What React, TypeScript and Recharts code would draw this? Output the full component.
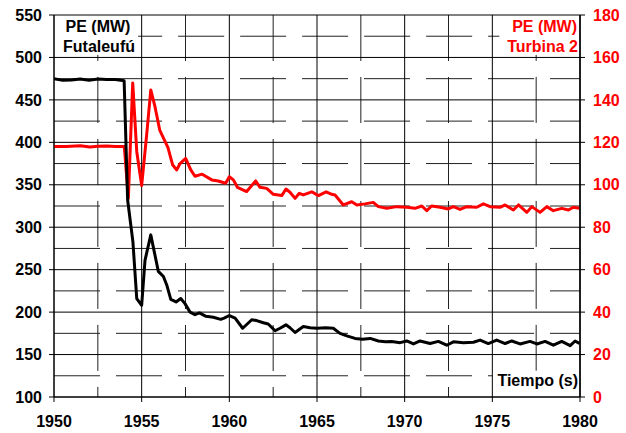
import React from "react";
import { LineChart, Line, XAxis, YAxis, ReferenceLine, Customized } from "recharts";

const futaleufuTime = [1950.0, 1950.5, 1951.0, 1951.5, 1952.0, 1952.5, 1953.0, 1953.5, 1954.0, 1954.2, 1954.5, 1954.72, 1955.0, 1955.19, 1955.52, 1955.95, 1956.24, 1956.43, 1956.66, 1956.96, 1957.23, 1957.47, 1957.76, 1958.04, 1958.29, 1958.67, 1959.09, 1959.51, 1959.7, 1960.0, 1960.33, 1960.76, 1961.28, 1961.56, 1961.94, 1962.22, 1962.61, 1962.89, 1963.23, 1963.46, 1963.75, 1964.22, 1964.6, 1965.0, 1965.5, 1965.93, 1966.31, 1966.7, 1967.17, 1967.6, 1968.03, 1968.5, 1968.9, 1969.26, 1969.74, 1970.12, 1970.5, 1970.88, 1971.45, 1971.92, 1972.4, 1972.78, 1973.35, 1973.92, 1974.3, 1974.77, 1975.25, 1975.73, 1976.11, 1976.58, 1977.15, 1977.54, 1978.01, 1978.48, 1978.96, 1979.44, 1979.72, 1979.97];
const futaleufuMW = [475, 473, 473.5, 474.5, 473, 474.5, 474, 474, 472.5, 332, 283, 216, 208, 261, 291, 248, 242, 232, 215, 212, 216, 210, 200, 197, 199, 195, 194, 191.5, 193, 196, 193, 181, 191, 190, 187.5, 186, 178, 181, 185, 181.6, 176, 183, 181.5, 181, 181.5, 181, 175, 172, 169, 168, 169, 166, 165, 165.5, 164, 166, 162.5, 166, 163, 165.5, 161, 165, 164, 164.5, 167, 163, 167, 163, 166, 162.5, 165.5, 162.5, 165.5, 161, 165.5, 160.5, 166, 163];

const turbinaTime = [1950.0, 1950.7, 1951.5, 1952.05, 1952.5, 1953.01, 1953.5, 1954.01, 1954.24, 1954.49, 1954.72, 1955.0, 1955.29, 1955.52, 1955.76, 1956.03, 1956.5, 1956.77, 1957.0, 1957.19, 1957.51, 1957.8, 1958.04, 1958.45, 1959.0, 1959.37, 1959.79, 1960.0, 1960.23, 1960.46, 1960.99, 1961.5, 1961.75, 1962.13, 1962.51, 1962.99, 1963.23, 1963.46, 1963.75, 1963.99, 1964.22, 1964.7, 1965.08, 1965.52, 1965.84, 1966.03, 1966.5, 1966.98, 1967.27, 1967.74, 1968.21, 1968.5, 1968.98, 1969.55, 1970.12, 1970.59, 1970.98, 1971.26, 1971.54, 1972.02, 1972.49, 1972.78, 1973.16, 1973.54, 1974.11, 1974.49, 1974.87, 1975.44, 1975.73, 1976.2, 1976.49, 1976.97, 1977.25, 1977.72, 1978.11, 1978.48, 1978.96, 1979.34, 1979.62, 1979.97];
const turbinaMW = [118, 118, 118.4, 117.8, 118.2, 118.3, 118, 118, 93.6, 148, 115.6, 99.6, 124, 144.7, 136.8, 125.8, 117.5, 109.3, 107, 110, 112.4, 107, 104, 105, 102.3, 101.8, 100.7, 103.8, 102.3, 98.8, 96.8, 101.8, 98.8, 98.3, 95.5, 94.9, 98, 96.5, 93.6, 96, 95.2, 96.7, 94.9, 96.7, 95.5, 95.2, 90.5, 92, 90.5, 91, 91.7, 89.7, 88.9, 89.7, 89.4, 88.9, 90, 87.8, 90, 89.4, 88.6, 89.7, 88.4, 89.7, 89.4, 91, 89.7, 89.4, 90.5, 88.1, 90.5, 87, 89.7, 87, 89.7, 87.8, 88.9, 88.1, 89.4, 88.9];

const xTicks = [1950, 1955, 1960, 1965, 1970, 1975, 1980];
const leftTicks = [100, 150, 200, 250, 300, 350, 400, 450, 500, 550];
const rightTicks = [0, 20, 40, 60, 80, 100, 120, 140, 160, 180];

// dashed minor grid lines: [x1, y1, x2, y2] in data units (left axis); gaps leave room for the text labels
const minorHorizontal = [
  [1950, 125, 1975, 125],
  [1950, 175, 1980, 175],
  [1950, 225, 1980, 225],
  [1950, 275, 1980, 275],
  [1950, 325, 1980, 325],
  [1950, 375, 1980, 375],
  [1950, 425, 1980, 425],
  [1950, 475, 1980, 475],
  [1954.8, 525, 1975.4, 525],
];
const minorVertical = [
  [1952.5, 503, 1952.5, 100],
  [1957.5, 550, 1957.5, 100],
  [1962.5, 550, 1962.5, 100],
  [1967.5, 550, 1967.5, 100],
  [1972.5, 550, 1972.5, 100],
  [1977.5, 503, 1977.5, 131],
];

const futaleufuData = futaleufuTime.map((t, i) => ({ t, v: futaleufuMW[i] }));
const turbinaData = turbinaTime.map((t, i) => ({ t, v: turbinaMW[i] }));

const FONT = "'Liberation Sans', Arial, Helvetica, sans-serif";
const tickStyle = { fontFamily: FONT, fontWeight: 700, fontSize: 16 };

const Labels = () => (
  <g style={{ fontFamily: FONT, fontWeight: 700, fontSize: 16 }}>
    <text x={98} y={32} textAnchor="middle" fill="#000">PE (MW)</text>
    <text x={99} y={52} textAnchor="middle" fill="#000">Futaleufú</text>
    <text x={577} y={32} textAnchor="end" fill="#ff0000">PE (MW)</text>
    <text x={578} y={52} textAnchor="end" fill="#ff0000">Turbina 2</text>
    <text x={578} y={386} textAnchor="end" fill="#000">Tiempo (s)</text>
  </g>
);

export default function App() {
  return (
    <div style={{ position: "absolute", left: 0, top: 0, background: "#fff" }}>
      <LineChart width={626} height={433} margin={{ top: 15, right: 0, bottom: 0, left: 0 }}>
        <XAxis
          dataKey="t"
          type="number"
          domain={[1950, 1980]}
          ticks={xTicks}
          height={36}
          axisLine={{ stroke: "#000" }}
          tickLine={{ stroke: "#000" }}
          tickSize={5}
          tickMargin={14}
          tick={{ ...tickStyle, fill: "#000" }}
          allowDataOverflow
        />
        <YAxis
          yAxisId="left"
          orientation="left"
          domain={[100, 550]}
          ticks={leftTicks}
          width={54}
          axisLine={{ stroke: "#000" }}
          tickLine={{ stroke: "#000" }}
          tickSize={5}
          tickMargin={7}
          tick={{ ...tickStyle, fill: "#000" }}
          allowDataOverflow
        />
        <YAxis
          yAxisId="right"
          orientation="right"
          domain={[0, 180]}
          ticks={rightTicks}
          width={46}
          axisLine={{ stroke: "#000", strokeWidth: 1.5 }}
          tickLine={{ stroke: "#000" }}
          tickSize={5}
          tickMargin={8}
          tick={{ ...tickStyle, fill: "#ff0000", textAnchor: "start" }}
          allowDataOverflow
        />
        {minorHorizontal.map(([x1, y1, x2, y2]) => (
          <ReferenceLine
            key={"hm" + y1}
            yAxisId="left"
            segment={[{ x: x1, y: y1 }, { x: x2, y: y2 }]}
            stroke="#222"
            strokeDasharray="46 16"
            strokeDashoffset={x1 === 1950 ? 0 : 22}
          />
        ))}
        {minorVertical.map(([x1, y1, x2, y2]) => (
          <ReferenceLine
            key={"vm" + x1}
            yAxisId="left"
            segment={[{ x: x1, y: y1 }, { x: x2, y: y2 }]}
            stroke="#222"
            strokeDasharray="46 16"
            strokeDashoffset={y1 === 550 ? 0 : 40}
          />
        ))}
        {leftTicks.map((v) => (
          <ReferenceLine key={"h" + v} yAxisId="left" y={v} stroke="#000" />
        ))}
        {xTicks.map((v) => (
          <ReferenceLine key={"v" + v} yAxisId="left" x={v} stroke="#000" />
        ))}
        <Customized component={Labels} />
        <Line
          yAxisId="right"
          data={turbinaData}
          dataKey="v"
          stroke="#ff0000"
          strokeWidth={3}
          dot={false}
          isAnimationActive={false}
          strokeLinejoin="round"
        />
        <Line
          yAxisId="left"
          data={futaleufuData}
          dataKey="v"
          stroke="#000"
          strokeWidth={3}
          dot={false}
          isAnimationActive={false}
          strokeLinejoin="round"
        />
      </LineChart>
    </div>
  );
}
